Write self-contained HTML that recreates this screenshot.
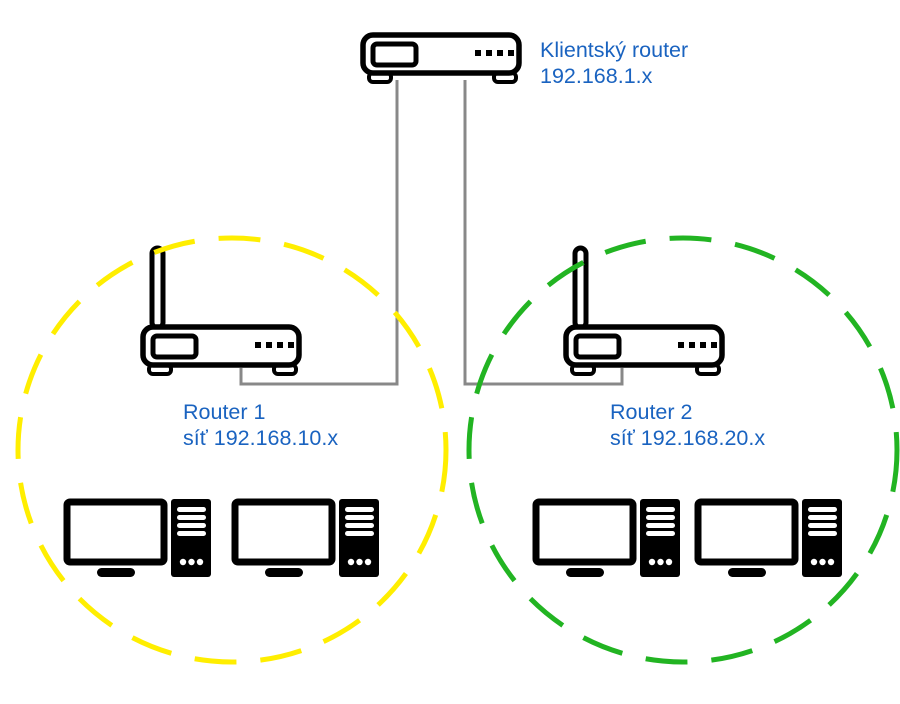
<!DOCTYPE html>
<html><head><meta charset="utf-8"><style>
html,body{margin:0;padding:0;background:#fff;width:900px;height:704px;overflow:hidden}
text{font-family:"Liberation Sans",sans-serif;font-size:21.5px;fill:#1a63c0}
</style></head><body>
<svg width="900" height="704" viewBox="0 0 900 704" xmlns="http://www.w3.org/2000/svg">
<defs>
<g id="rt">
  <rect x="9" y="41" width="22" height="9" rx="4" fill="#fff" stroke="#000" stroke-width="4"/>
  <rect x="134" y="41" width="22" height="9" rx="4" fill="#fff" stroke="#000" stroke-width="4"/>
  <rect x="3" y="3" width="156" height="38" rx="10" fill="#fff" stroke="#000" stroke-width="5.5"/>
  <rect x="13" y="12" width="43" height="21" rx="4" fill="#fff" stroke="#000" stroke-width="5"/>
  <rect x="115" y="18" width="6" height="6"/><rect x="126" y="18" width="6" height="6"/>
  <rect x="137" y="18" width="6" height="6"/><rect x="148" y="18" width="6" height="6"/>
</g>
<g id="ant">
  <rect x="12" y="-76" width="11" height="80" rx="5.5" fill="#fff" stroke="#000" stroke-width="5"/>
</g>
<g id="pc">
  <rect x="3" y="3" width="97" height="60" rx="3" fill="#fff" stroke="#000" stroke-width="7"/>
  <rect x="33" y="69" width="38" height="9" rx="4.5"/>
  <rect x="107" y="0" width="40" height="78" rx="3"/>
  <rect x="113" y="8" width="29" height="5" rx="2.5" fill="#fff"/>
  <rect x="113" y="16" width="29" height="5" rx="2.5" fill="#fff"/>
  <rect x="113" y="24" width="29" height="5" rx="2.5" fill="#fff"/>
  <rect x="113" y="32" width="29" height="5" rx="2.5" fill="#fff"/>
  <circle cx="119" cy="63" r="3.2" fill="#fff"/><circle cx="127.5" cy="63" r="3.2" fill="#fff"/><circle cx="136" cy="63" r="3.2" fill="#fff"/>
</g>
</defs>
<g fill="none" stroke="#888" stroke-width="3">
  <polyline points="397,80 397,384 241,384 241,368"/>
  <polyline points="465,80 465,384 622,384 622,368"/>
</g>
<use href="#rt" x="360" y="32"/>
<use href="#ant" x="140" y="324"/>
<use href="#rt" x="140" y="324"/>
<use href="#ant" x="563" y="324"/>
<use href="#rt" x="563" y="324"/>
<use href="#pc" x="64" y="499"/>
<use href="#pc" x="232" y="499"/>
<use href="#pc" x="533" y="499"/>
<use href="#pc" x="695" y="499"/>
<ellipse cx="232" cy="450" rx="214" ry="212" fill="none" stroke="#ffee00" stroke-width="5" stroke-dasharray="42 24"/>
<ellipse cx="683" cy="450" rx="214" ry="212" fill="none" stroke="#22b422" stroke-width="5" stroke-dasharray="42 24"/>
<text x="540" y="57">Klientský router</text>
<text x="540" y="83">192.168.1.x</text>
<text x="183" y="419">Router 1</text>
<text x="183" y="445">síť 192.168.10.x</text>
<text x="610" y="419">Router 2</text>
<text x="610" y="445">síť 192.168.20.x</text>
</svg>
</body></html>
